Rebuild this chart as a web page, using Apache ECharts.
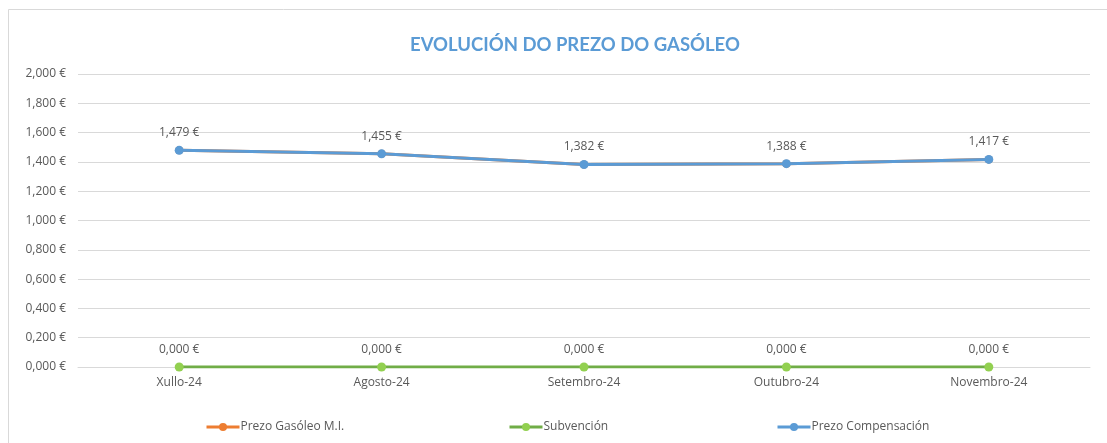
<!DOCTYPE html>
<html>
<head>
<meta charset="utf-8">
<script src="https://cdn.jsdelivr.net/npm/echarts@6/dist/echarts.min.js"></script>
<style>
  html, body { margin: 0; padding: 0; background: #fff; }
  #chart { width: 1107px; height: 443px; }
</style>
</head>
<body>
<div id="chart"></div>
<script>
// months shown on the x axis
const categories = ['Xullo-24', 'Agosto-24', 'Setembro-24', 'Outubro-24', 'Novembro-24'];
// price values in € per litre
const prezoGasoleo = [1.479, 1.455, 1.382, 1.388, 1.417];
const subvencion = [0, 0, 0, 0, 0];
const prezoCompensacion = [1.479, 1.455, 1.382, 1.388, 1.417];

const fmt = v => v.toFixed(3).replace('.', ',') + ' €';
const FONT = '"Open Sans", sans-serif';
const GREY = '#595959';

const chart = echarts.init(document.getElementById('chart'));

function legendAt(name, left) {
  return {
    data: [name], left: left, top: 421,
    itemWidth: 33, itemHeight: 10, padding: 0,
    lineStyle: { width: 3 },
    textStyle: { color: GREY, fontSize: 12, fontFamily: FONT, padding: [0, 0, 0, -4] }
  };
}

chart.setOption({
  animation: false,
  backgroundColor: '#fff',
  title: {
    text: 'EVOLUCIÓN DO PREZO DO GASÓLEO',
    left: 405, top: 31,
    textStyle: { color: '#5B9BD5', fontSize: 18.5, fontWeight: 'bold', fontFamily: 'Lato, sans-serif' }
  },
  graphic: [{
    type: 'rect', shape: { x: 8.5, y: 9.5, width: 1110, height: 450 },
    style: { fill: 'none', stroke: '#d9d9d9', lineWidth: 1 }, silent: true
  }],
  legend: [
    legendAt('Prezo Gasóleo M.I.', 205),
    legendAt('Subvención', 508),
    legendAt('Prezo Compensación', 776)
  ],
  grid: { left: 78, right: 17, top: 74, bottom: 76 },
  xAxis: {
    type: 'category', data: categories, boundaryGap: true,
    axisLine: { lineStyle: { color: '#d9d9d9' } },
    axisTick: { show: false },
    axisLabel: { color: GREY, fontSize: 12, fontFamily: FONT, margin: 10 }
  },
  yAxis: {
    type: 'value', min: 0, max: 2, interval: 0.2,
    axisLabel: { color: GREY, fontSize: 12, fontFamily: FONT, formatter: fmt, margin: 12 },
    splitLine: { lineStyle: { color: '#d9d9d9' } },
    axisLine: { show: false }, axisTick: { show: false }
  },
  series: [
    {
      name: 'Prezo Gasóleo M.I.', type: 'line', data: prezoGasoleo,
      color: '#ED7D31', symbol: 'circle', symbolSize: 8,
      lineStyle: { width: 3 }, z: 1
    },
    {
      name: 'Subvención', type: 'line', data: subvencion,
      color: '#70AD47', symbol: 'circle', symbolSize: 9,
      itemStyle: { color: '#92D050' },
      lineStyle: { width: 3, color: '#70AD47' }, z: 2,
      label: { show: true, position: 'top', distance: 7, color: GREY, fontSize: 12, fontFamily: FONT, formatter: p => fmt(p.value) }
    },
    {
      name: 'Prezo Compensación', type: 'line', data: prezoCompensacion,
      color: '#5B9BD5', symbol: 'circle', symbolSize: 9,
      lineStyle: { width: 3 }, z: 3,
      label: { show: true, position: 'top', distance: 7, color: GREY, fontSize: 12, fontFamily: FONT, formatter: p => fmt(p.value) }
    }
  ]
});
window.addEventListener('resize', () => chart.resize());
</script>
</body>
</html>
